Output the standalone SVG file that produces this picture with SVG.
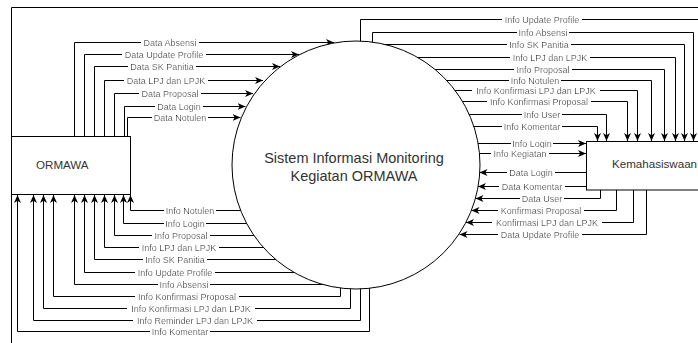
<svg xmlns="http://www.w3.org/2000/svg" width="698" height="343" viewBox="0 0 698 343">
<style>
.c{fill:none;stroke:#000;stroke-width:1;marker-end:url(#arr)}
.n{fill:none;stroke:#000;stroke-width:1}
.l{font-family:"Liberation Sans",Arial,sans-serif;font-size:9px;fill:#333;text-anchor:middle;filter:url(#bg)}
.box{fill:#fff;stroke:#000;stroke-width:1}
.t{font-family:"Liberation Sans",Arial,sans-serif;fill:#333}
</style>
<defs>
<marker id="arr" markerUnits="userSpaceOnUse" markerWidth="9" markerHeight="8" refX="8" refY="3.5" orient="auto">
<path d="M0,0 L8,3.5 L0,7 L2.2,3.5 Z" fill="#000"/>
</marker>
<filter id="bg" x="-0.03" y="0" width="1.06" height="1">
<feFlood flood-color="#fff"/>
<feComposite in="SourceGraphic"/>
</filter>
</defs>
<g id="frame">
<path class="n" d="M11.5,343 V7.5 H698"/>
</g>
<g id="connectors">
<path class="c" d="M74.5,136 V42.5 H334"/>
<path class="c" d="M84.5,136 V54.5 H299"/>
<path class="c" d="M94.5,136 V66.5 H280"/>
<path class="c" d="M104.5,136 V80.5 H263"/>
<path class="c" d="M114.5,136 V93.5 H253"/>
<path class="c" d="M124.5,136 V106.5 H245.5"/>
<path class="c" d="M127.5,136 V117.5 H240.5"/>
<path class="c" d="M244,210.5 H130.5 V195"/>
<path class="c" d="M250,223.5 H123.5 V195"/>
<path class="c" d="M258,235.5 H114.5 V195"/>
<path class="c" d="M268,247.5 H104.5 V195"/>
<path class="c" d="M279,259.5 H94.5 V195"/>
<path class="c" d="M300,272.5 H84.5 V195"/>
<path class="c" d="M328,284.5 H74.5 V195"/>
<path class="c" d="M340.5,280 V296.5 H53.5 V195"/>
<path class="c" d="M350.5,280 V308.5 H43.5 V195"/>
<path class="c" d="M360.5,280 V320.5 H33.5 V195"/>
<path class="c" d="M369.5,280 V331.5 H17.5 V195"/>
<path class="c" d="M360.5,50 V19.5 H705 V141"/>
<path class="c" d="M372.5,50 V32.5 H693.5 V141"/>
<path class="c" d="M370,44.5 H684.5 V141"/>
<path class="c" d="M405,57.5 H675.5 V141"/>
<path class="c" d="M425,69.5 H664.5 V141"/>
<path class="c" d="M440,80.5 H651.5 V141"/>
<path class="c" d="M448,90.5 H637.5 V141"/>
<path class="c" d="M455,101.5 H627.5 V141"/>
<path class="c" d="M462,114.5 H606.5 V141"/>
<path class="c" d="M468,126.5 H597.5 V141"/>
<path class="c" d="M470,143.5 H586"/>
<path class="c" d="M470,153.5 H586"/>
<path class="c" d="M586,172.5 H479.5"/>
<path class="c" d="M586,186.5 H478"/>
<path class="c" d="M600.5,190 V198.5 H475.5"/>
<path class="c" d="M616.5,190 V210.5 H471.5"/>
<path class="c" d="M633.5,190 V222.5 H466"/>
<path class="c" d="M646.5,190 V234.5 H459.5"/>
<g id="labels">
<text class="l" x="170" y="45.7">Data Absensi</text>
<text class="l" x="164" y="57.7">Data Update Profile</text>
<text class="l" x="162" y="69.7">Data SK Panitia</text>
<text class="l" x="166" y="83.7">Data LPJ dan LPJK</text>
<text class="l" x="170" y="96.7">Data Proposal</text>
<text class="l" x="179" y="109.7">Data Login</text>
<text class="l" x="180" y="120.7">Data Notulen</text>
<text class="l" x="190" y="213.7">Info Notulen</text>
<text class="l" x="185" y="226.7">Info Login</text>
<text class="l" x="181" y="238.7">Info Proposal</text>
<text class="l" x="179" y="250.7">Info LPJ dan LPJK</text>
<text class="l" x="175" y="262.7">Info SK Panitia</text>
<text class="l" x="175" y="275.7">Info Update Profile</text>
<text class="l" x="184" y="287.7">Info Absensi</text>
<text class="l" x="187" y="299.7">Info Konfirmasi Proposal</text>
<text class="l" x="191" y="311.7">Info Konfirmasi LPJ dan LPJK</text>
<text class="l" x="195" y="323.7">Info Reminder LPJ dan LPJK</text>
<text class="l" x="180" y="334.7">Info Komentar</text>
<text class="l" x="542" y="22.7">Info Update Profile</text>
<text class="l" x="543" y="35.7">Info Absensi</text>
<text class="l" x="539" y="47.7">Info SK Panitia</text>
<text class="l" x="550" y="60.7">Info LPJ dan LPJK</text>
<text class="l" x="543" y="72.7">Info Proposal</text>
<text class="l" x="535" y="83.7">Info Notulen</text>
<text class="l" x="536" y="93.7">Info Konfirmasi LPJ dan LPJK</text>
<text class="l" x="539" y="104.7">Info Konfirmasi Proposal</text>
<text class="l" x="542" y="117.7">Info User</text>
<text class="l" x="532" y="129.7">Info Komentar</text>
<text class="l" x="532" y="146.7">Info Login</text>
<text class="l" x="520" y="156.7">Info Kegiatan</text>
<text class="l" x="531" y="175.7">Data Login</text>
<text class="l" x="532" y="189.7">Data Komentar</text>
<text class="l" x="542" y="201.7">Data User</text>
<text class="l" x="541" y="213.7">Konfirmasi Proposal</text>
<text class="l" x="547" y="225.7">Konfirmasi LPJ dan LPJK</text>
<text class="l" x="540" y="237.7">Data Update Profile</text>
</g>
</g>
<g id="sistem">
<circle class="box" cx="356" cy="165" r="124"/>
<text class="t" x="354" y="162.5" font-size="14.5" text-anchor="middle">Sistem Informasi Monitoring</text>
<text class="t" x="354" y="180.5" font-size="14.5" text-anchor="middle">Kegiatan ORMAWA</text>
</g>
<g id="ormawa">
<rect class="box" x="11.5" y="136.5" width="119" height="58"/>
<text class="t" x="36" y="169" font-size="11.6">ORMAWA</text>
</g>
<g id="kemahasiswaan">
<rect class="box" x="586.5" y="141.5" width="130" height="48.5"/>
<text class="t" x="612" y="168" font-size="11.6">Kemahasiswaan</text>
</g>
</svg>
